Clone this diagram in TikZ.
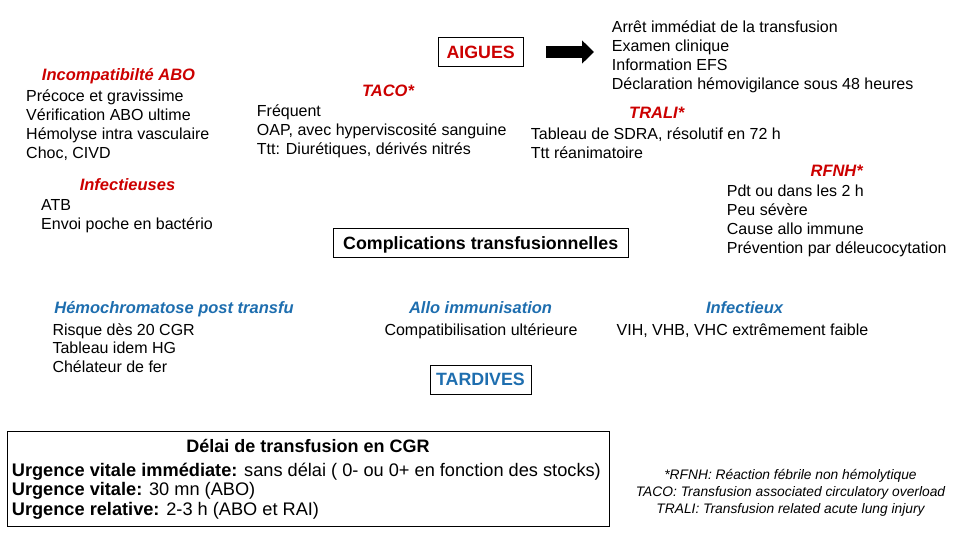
\documentclass[tikz,border=0pt]{standalone}
\usepackage{fontspec}
\setmainfont{Liberation Sans}
\usepackage{xcolor}
\usetikzlibrary{arrows.meta}
\definecolor{alertred}{RGB}{204,0,0}
\definecolor{lateblue}{RGB}{30,110,175}

\begin{document}
\begin{tikzpicture}[x=1pt, y=-1pt,
    heading/.style={font=\fontsize{16.5}{19}\selectfont\bfseries\itshape, text=#1, inner sep=0pt, anchor=base},
    body/.style={font=\fontsize{16}{19}\selectfont, align=left, inner sep=0pt, anchor=base west},
    boxlabel/.style={draw, line width=0.9pt, font=\fontsize{17.8}{20}\selectfont\bfseries, text=#1, text height=12.8pt, text depth=0pt, inner sep=0pt},
    arr/.style={line width=11.6pt, -{Triangle[length=12pt, width=22.6pt]}}
]
\useasboundingbox (0,0) rectangle (960,540);

% acute complications (multi-line nodes sit on their last baseline)
\node[boxlabel=alertred, minimum width=84.7pt, minimum height=29.4pt] (aigues) at (480.7,52) {AIGUES};
\node[body] (actions) at (611.7,89.3) {Arrêt immédiat de la transfusion\\Examen clinique\\Information EFS\\Déclaration hémovigilance sous 48 heures};

\node[heading=alertred] (abo) at (118.5,81) {Incompatibilté ABO};
\node[body] (abotext) at (26,158.7) {Précoce et gravissime\\Vérification ABO ultime\\Hémolyse intra vasculaire\\Choc, CIVD};
\node[heading=alertred] (taco) at (388,96.7) {TACO*};
\node[body] (tacotext) at (256.7,154.7) {Fréquent\\OAP, avec hyperviscosité sanguine\\Ttt: Diurétiques, dérivés nitrés};
\node[heading=alertred] (trali) at (656.7,119) {TRALI*};
\node[body] (tralitext) at (530.7,158.3) {Tableau de SDRA, résolutif en 72 h\\Ttt réanimatoire};
\node[heading=alertred] (infect) at (127.5,190.7) {Infectieuses};
\node[body] (infecttext) at (41,229.7) {ATB\\Envoi poche en bactério};
\node[heading=alertred] (rfnh) at (836.7,176.7) {RFNH*};
\node[body] (rfnhtext) at (726.7,253) {Pdt ou dans les 2 h\\Peu sévère\\Cause allo immune\\Prévention par déleucocytation};

\node[boxlabel=black, minimum width=295.3pt, minimum height=29pt] (complic) at (480.7,242.8) {Complications transfusionnelles};

% late complications
\node[heading=lateblue] (hemo) at (174,313.3) {Hémochromatose post transfu};
\node[body, font=\fontsize{16}{18.5}\selectfont] (hemotext) at (52.3,372) {Risque dès 20 CGR\\Tableau idem HG\\Chélateur de fer};
\node[heading=lateblue] (allo) at (480.5,313.3) {Allo immunisation};
\node[body, anchor=base] (allotext) at (481,335) {Compatibilisation ultérieure};
\node[heading=lateblue] (infx) at (744.5,313.3) {Infectieux};
\node[body, anchor=base] (infxtext) at (742.5,335) {VIH, VHB, VHC extrêmement faible};

\node[boxlabel=lateblue, minimum width=101pt, minimum height=29pt] (tardives) at (480.5,379.5) {TARDIVES};

% delays
\node[draw, line width=0.9pt, minimum width=602pt, minimum height=95pt, inner sep=0pt, anchor=north west] (delai) at (7,431) {};
\node[font=\fontsize{18}{20}\selectfont\bfseries, inner sep=0pt, anchor=base] (delaititle) at (308,452) {Délai de transfusion en CGR};
\node[font=\fontsize{18.2}{19.8}\selectfont, align=left, inner sep=0pt, anchor=base west] (urgences) at (11.7,515.7) {\textbf{Urgence vitale immédiate:} sans délai ( 0- ou 0+ en fonction des stocks)\\\textbf{Urgence vitale:} 30 mn (ABO)\\\textbf{Urgence relative:} 2-3 h (ABO et RAI)};

\node[font=\fontsize{13.8}{16.7}\selectfont\itshape, align=center, inner sep=0pt, anchor=base] (notes) at (790.5,513.2) {*RFNH: Réaction fébrile non hémolytique\\TACO: Transfusion associated circulatory overload\\TRALI: Transfusion related acute lung injury};

\draw[arr] ([xshift=22.7pt]aigues.east) -- ([xshift=-17.7pt]aigues.east -| actions.west);
\end{tikzpicture}
\end{document}
